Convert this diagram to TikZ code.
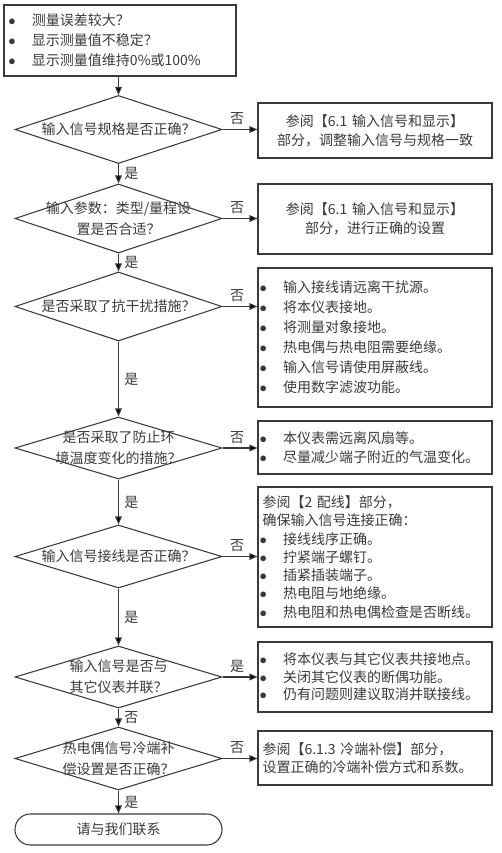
\documentclass[tikz,border=0pt]{standalone}
\usepackage{fontspec}
\setmainfont{Noto Sans CJK SC}
\usetikzlibrary{shapes.geometric,arrows.meta,calc}
\newdimen\px \px=0.75pt
\definecolor{ink}{HTML}{3A3A3A}
\newcommand\mybul{\makebox[23.5\px][l]{$\bullet$}}
\newcommand\fs[1]{\fontsize{10.5}{#1}\selectfont}
\begin{document}
\begin{tikzpicture}[x=0.75pt,y=-0.75pt,
  every node/.style={text=ink, font=\fs{14pt}},
  box/.style={draw=ink, line width=0.8pt, rectangle, inner ysep=0pt, inner xsep=1.5*\px, text width=231*\px, minimum width=234*\px},
  dia/.style={draw=ink, line width=0.8pt, diamond, inner sep=0pt, minimum width=207*\px},
  arr/.style={draw=ink, line width=0.8pt, -{Triangle[length=6pt,width=5pt,fill=black]}},
  no/.style={above, pos=0.42, inner sep=3pt},
  yes/.style={right, midway, inner xsep=4pt, inner ysep=0pt}
]
\useasboundingbox (0,0) rectangle (501,853);
% top box
\node[box, text width=223*\px, minimum width=232*\px, inner xsep=4.5*\px, minimum height=71*\px, align=left, font=\fs{15pt}] (top) at (120,40.5)
  {\mybul 测量误差较大？\\ \mybul 显示测量值不稳定？\\ \mybul 显示测量值维持0\%或100\%};
% diamonds
\node[dia, minimum height=68*\px] (d1) at (118.5,129.5) {};
\node (d1t) at (d1) {输入信号规格是否正确？};
\node[dia, minimum height=69*\px] (d2) at (118.5,218.5) {};
\node[align=center, font=\fs{15.75pt}] (d2t) at (d2) {输入参数：类型/量程设\\置是否合适？};
\node[dia, minimum height=69*\px] (d3) at (118.5,306.5) {};
\node (d3t) at (d3) {是否采取了抗干扰措施？};
\node[dia, minimum height=62*\px] (d4) at (118.5,448) {};
\node[align=center, font=\fs{15.75pt}] (d4t) at (d4) {是否采取了防止环\\境温度变化的措施？};
\node[dia, minimum height=63*\px] (d5) at (118.5,556.5) {};
\node (d5t) at (d5) {输入信号接线是否正确？};
\node[dia, minimum height=62*\px] (d6) at (118.5,677) {};
\node[align=center, font=\fs{15.75pt}] (d6t) at (d6) {输入信号是否与\\其它仪表并联？};
\node[dia, minimum height=63*\px] (d7) at (118.5,758.5) {};
\node[align=center, font=\fs{15.75pt}] (d7t) at (d7) {热电偶信号冷端补\\偿设置是否正确？};
\node[draw=ink, line width=0.8pt, rounded corners=11.5pt, minimum width=207*\px, minimum height=31*\px, inner sep=0pt] (term) at (118.5,829.5) {请与我们联系};
% right boxes
\node[box, minimum height=55*\px, align=center, font=\fs{14.25pt}] (b1) at (375,130.5)
  {参阅【6.1 输入信号和显示】\\部分，调整输入信号与规格一致};
\node[box, minimum height=70*\px, align=center, font=\fs{14.25pt}] (b2) at (375,219)
  {参阅【6.1 输入信号和显示】\\部分，进行正确的设置};
\node[box, minimum height=139*\px, align=left, font=\fs{15pt}] (b3) at (375,337.5)
  {\mybul 输入接线请远离干扰源。\\ \mybul 将本仪表接地。\\ \mybul 将测量对象接地。\\ \mybul 热电偶与热电阻需要绝缘。\\ \mybul 输入信号请使用屏蔽线。\\ \mybul 使用数字滤波功能。};
\node[box, minimum height=53*\px, align=left, font=\fs{14.25pt}] (b4) at (375,447.5)
  {\mybul 本仪表需远离风扇等。\\ \mybul 尽量减少端子附近的气温变化。};
\node[box, minimum height=140*\px, align=left, font=\fs{13.7pt}] (b5) at (375,557)
  {\hspace{3\px}参阅【2 配线】部分，\\ \hspace{3\px}确保输入信号连接正确：\\ \mybul 接线线序正确。\\ \mybul 拧紧端子螺钉。\\ \mybul 插紧插装端子。\\ \mybul 热电阻与地绝缘。\\ \mybul 热电阻和热电偶检查是否断线。};
\node[box, minimum height=70*\px, align=left, font=\fs{13.2pt}] (b6) at (375,677)
  {\mybul 将本仪表与其它仪表共接地点。\\ \mybul 关闭其它仪表的断偶功能。\\ \mybul 仍有问题则建议取消并联接线。};
\node[box, minimum height=54*\px, align=left, font=\fs{13.5pt}] (b7) at (375,758)
  {\hspace{3\px}参阅【6.1.3 冷端补偿】部分，\\ \hspace{3\px}设置正确的冷端补偿方式和系数。};
% connectors
\draw[arr] (top.south -| d1.north) -- (d1.north);
\draw[arr] (d1.east) -- node[no] {否} (d1.east -| b1.west);
\draw[arr] (d1.south) -- node[yes] {是} (d2.north);
\draw[arr] (d2.east) -- node[no] {否} (d2.east -| b2.west);
\draw[arr] (d2.south) -- node[yes] {是} (d3.north);
\draw[arr] (d3.east) -- node[no] {否} (d3.east -| b3.west);
\draw[arr] (d3.south) -- node[yes] {是} (d4.north);
\draw[arr] (d4.east) -- node[no] {否} (d4.east -| b4.west);
\draw[arr] (d4.south) -- node[yes] {是} (d5.north);
\draw[arr] (d5.east) -- node[no] {否} (d5.east -| b5.west);
\draw[arr] (d5.south) -- node[yes] {是} (d6.north);
\draw[arr] (d6.east) -- node[no] {是} (d6.east -| b6.west);
\draw[arr] (d6.south) -- node[yes] {否} (d7.north);
\draw[arr] (d7.east) -- node[no] {否} (d7.east -| b7.west);
\draw[arr] (d7.south) -- node[yes] {是} (term.north);
\end{tikzpicture}
\end{document}
